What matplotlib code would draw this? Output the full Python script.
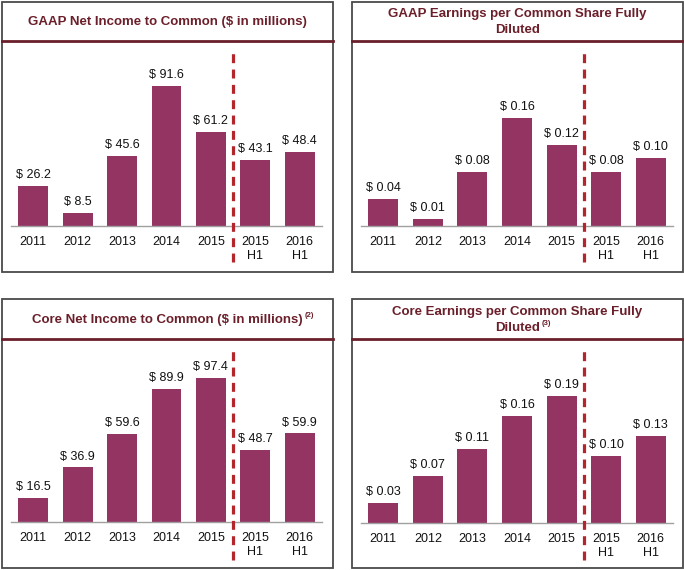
import matplotlib
matplotlib.use("Agg")
import matplotlib.pyplot as plt
from matplotlib.patches import Rectangle
from matplotlib.lines import Line2D

plt.rcParams['font.family'] = ['Liberation Sans', 'DejaVu Sans']

categories = ['2011', '2012', '2013', '2014', '2015', '2015\nH1', '2016\nH1']
gaap_net_income = [26.2, 8.5, 45.6, 91.6, 61.2, 43.1, 48.4]
gaap_eps = [0.04, 0.01, 0.08, 0.16, 0.12, 0.08, 0.10]
core_net_income = [16.5, 36.9, 59.6, 89.9, 97.4, 48.7, 59.9]
core_eps = [0.03, 0.07, 0.11, 0.16, 0.19, 0.10, 0.13]

titles = [['GAAP Net Income to Common ($ in millions)'],
          ['GAAP Earnings per Common Share Fully', 'Diluted'],
          ['Core Net Income to Common ($ in millions)'],
          ['Core Earnings per Common Share Fully', 'Diluted']]
superscripts = [None, None, '(2)', '(3)']

W, H = 684, 570
BAR = '#943462'
TITLE_C = '#6B1F2A'
DASH_C = '#B3262B'

fig = plt.figure(figsize=(W / 100, H / 100), dpi=100)


def fx(x):
    return x / W


def fy(y):
    return 1 - y / H


panels = [
    dict(box=(2, 2, 333, 272), ty=[22], ly=41, ax=(11, 322, 50, 226), ylim=115, dash=(52, 262),
         data=gaap_net_income, fmt='$ {:.1f}'),
    dict(box=(352, 2, 683, 272), ty=[14, 30], ly=41, ax=(361, 673, 50, 226), ylim=0.260, dash=(52, 262),
         data=gaap_eps, fmt='$ {:.2f}'),
    dict(box=(2, 299, 333, 568), ty=[320], ly=339, ax=(11, 322, 348, 522), ylim=117.6, dash=(348, 560),
         data=core_net_income, fmt='$ {:.1f}'),
    dict(box=(352, 299, 683, 568), ty=[312, 328], ly=339, ax=(361, 673, 348, 523), ylim=0.261, dash=(348, 560),
         data=core_eps, fmt='$ {:.2f}'),
]

renderer = fig.canvas.get_renderer()

for p, lines, sup in zip(panels, titles, superscripts):
    bx0, by0, bx1, by1 = p['box']
    fig.patches.append(Rectangle((fx(bx0), fy(by1)), fx(bx1) - fx(bx0), fy(by0) - fy(by1),
                                 transform=fig.transFigure, fill=False,
                                 edgecolor='#4a4a4a', linewidth=1.3))
    fig.lines.append(Line2D([fx(bx0), fx(bx1)], [fy(p['ly']), fy(p['ly'])],
                            transform=fig.transFigure, color=TITLE_C, linewidth=2))
    last = None
    for line, ty in zip(lines, p['ty']):
        last = fig.text(fx((bx0 + bx1) / 2), fy(ty), line, ha='center', va='center',
                        fontsize=9.5, fontweight='bold', color=TITLE_C)
    if sup:
        bb = last.get_window_extent(renderer)
        fig.text((bb.x1 + 1.5) / W, (bb.y0 + 7) / H, sup, fontsize=5.5, fontweight='bold',
                 color=TITLE_C, ha='left', va='bottom')

    ax0, ax1, aytop, aybase = p['ax']
    ax = fig.add_axes([fx(ax0), fy(aybase), fx(ax1) - fx(ax0), fy(aytop) - fy(aybase)])
    xs = list(range(len(categories)))
    ax.bar(xs, p['data'], width=0.67, color=BAR, zorder=2)
    for x, v in zip(xs, p['data']):
        ax.annotate(p['fmt'].format(v), (x, v), xytext=(0, 3.5), textcoords='offset points',
                    ha='center', va='bottom', fontsize=9, color='#111111')
    ax.set_xlim(-0.5, len(categories) - 0.5)
    ax.set_ylim(0, p['ylim'])
    ax.set_xticks(xs)
    ax.set_xticklabels(categories, fontsize=9, linespacing=1.25, color='#111111')
    ax.tick_params(axis='x', length=0, pad=7)
    ax.set_yticks([])
    for s in ['top', 'right', 'left']:
        ax.spines[s].set_visible(False)
    ax.spines['bottom'].set_color('#A0A0A0')
    ax.spines['bottom'].set_linewidth(1)
    ax.patch.set_alpha(0)
    dtop, dbot = p['dash']
    h_px = aybase - aytop
    ax.axvline(4.5, ymin=(aybase - dbot) / h_px, ymax=(aybase - dtop) / h_px, color=DASH_C,
               linewidth=2.3, linestyle=(0, (2.8, 2.0)), clip_on=False, zorder=3)

fig.savefig('out.png', dpi=100)
